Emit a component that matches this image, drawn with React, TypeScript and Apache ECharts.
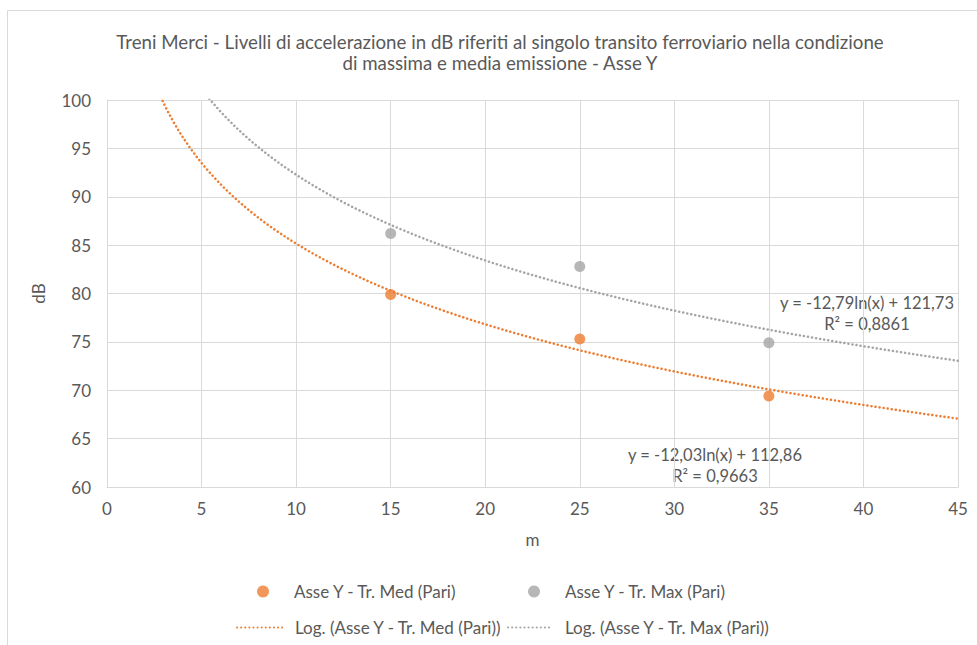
import React, { useEffect, useRef } from "react";
import * as echarts from "echarts";

const titleLines = [
  "Treni Merci - Livelli di accelerazione in dB riferiti al singolo transito ferroviario nella condizione",
  "di massima e media emissione - Asse Y",
];
const xTicks = { min: 0, max: 45, interval: 5 };
const yTicks = { min: 60, max: 100, interval: 5 };

const distances = [15, 25, 35];
const medValues = [79.9, 75.3, 69.4];
const maxValues = [86.2, 82.8, 74.9];

const seriesNames = [
  "Asse Y - Tr. Med (Pari)",
  "Asse Y - Tr. Max (Pari)",
  "Log. (Asse Y - Tr. Med (Pari))",
  "Log. (Asse Y - Tr. Max (Pari))",
];

// trendline coefficients as printed on the chart: y = a*ln(x) + b
const medTrend = [-12.03, 112.86];
const maxTrend = [-12.79, 121.73];
const medEquation = ["y = -12,03ln(x) + 112,86", "R² = 0,9663"];
const maxEquation = ["y = -12,79ln(x) + 121,73", "R² = 0,8861"];

const ORANGE = "#ED7D31";
const GREY = "#A5A5A5";
const TEXT = "#595959";
const GRID = "#D9D9D9";
const FONT = "Lato";

function trendPoints(coef: number[]) {
  const pts: number[][] = [];
  for (let x = 2.5; x <= 45.0001; x += 0.25) {
    pts.push([x, coef[0] * Math.log(x) + coef[1]]);
  }
  return pts;
}

export default function App() {
  const ref = useRef<HTMLDivElement>(null);
  useEffect(() => {
    if (!ref.current) return;
    const chart = echarts.init(ref.current, undefined, { renderer: "svg" });
    const dotted = { type: [0.1, 4] as any, width: 2.5, cap: "round" as any };
    const legendText = (pad: number) => ({
      color: TEXT,
      fontFamily: FONT,
      fontSize: 17,
      padding: [0, 0, 0, pad],
    });
    const hiddenSymbol = { color: "rgba(0,0,0,0)", borderWidth: 0, opacity: 0 };
    chart.setOption({
      animation: false,
      backgroundColor: "#fff",
      title: {
        text: titleLines.join("\n"),
        left: 495,
        textAlign: "center",
        top: 26,
        textStyle: { color: TEXT, fontFamily: FONT, fontSize: 18.7, fontWeight: "normal", lineHeight: 21 },
      },
      grid: { left: 107, right: 19, top: 100, bottom: 158, containLabel: false },
      xAxis: {
        type: "value",
        min: xTicks.min,
        max: xTicks.max,
        interval: xTicks.interval,
        name: "m",
        nameLocation: "middle",
        nameGap: 44,
        nameTextStyle: { color: TEXT, fontFamily: FONT, fontSize: 17 },
        axisLine: { show: true, lineStyle: { color: GRID } },
        axisTick: { show: false },
        axisLabel: { color: TEXT, fontFamily: FONT, fontSize: 17, margin: 13 },
        splitLine: { show: true, lineStyle: { color: GRID, width: 1 } },
      },
      yAxis: {
        type: "value",
        min: yTicks.min,
        max: yTicks.max,
        interval: yTicks.interval,
        name: "dB",
        nameLocation: "middle",
        nameGap: 60,
        nameRotate: 90,
        nameTextStyle: { color: TEXT, fontFamily: FONT, fontSize: 17 },
        axisLine: { show: true, lineStyle: { color: GRID } },
        axisTick: { show: false },
        axisLabel: { color: TEXT, fontFamily: FONT, fontSize: 17, margin: 16 },
        splitLine: { show: true, lineStyle: { color: GRID, width: 1 } },
      },
      legend: [
        { data: [seriesNames[0]], left: 252, top: 578, itemWidth: 52, itemHeight: 12, textStyle: legendText(0) },
        { data: [seriesNames[1]], left: 523, top: 578, itemWidth: 52, itemHeight: 12, textStyle: legendText(0) },
        { data: [seriesNames[2]], left: 231, top: 614, itemWidth: 48, itemHeight: 12, itemStyle: hiddenSymbol, textStyle: legendText(5) },
        { data: [seriesNames[3]], left: 502, top: 614, itemWidth: 43, itemHeight: 12, itemStyle: hiddenSymbol, textStyle: legendText(9) },
      ],
      graphic: [
        {
          type: "rect",
          silent: true,
          shape: { x: 7.5, y: 10.5, width: 1000, height: 700 },
          style: { fill: "none", stroke: GRID, lineWidth: 1 },
        },
        ...maxEquation.map((t, i) => ({
          type: "text",
          x: 867,
          y: 303 + i * 21,
          style: { text: t, fill: TEXT, font: `16.5px ${FONT}`, textAlign: "center", textVerticalAlign: "middle" },
        })),
        ...medEquation.map((t, i) => ({
          type: "text",
          x: 715,
          y: 455 + i * 21,
          style: { text: t, fill: TEXT, font: `16.5px ${FONT}`, textAlign: "center", textVerticalAlign: "middle" },
        })),
      ],
      series: [
        {
          name: seriesNames[2],
          type: "line",
          data: trendPoints(medTrend),
          showSymbol: false,
          symbol: "none",
          clip: true,
          color: ORANGE,
          lineStyle: { color: ORANGE, ...dotted },
          z: 2,
        },
        {
          name: seriesNames[3],
          type: "line",
          data: trendPoints(maxTrend),
          showSymbol: false,
          symbol: "none",
          clip: true,
          color: GREY,
          lineStyle: { color: GREY, ...dotted },
          z: 2,
        },
        {
          name: seriesNames[0],
          type: "scatter",
          data: distances.map((d, i) => [d, medValues[i]]),
          symbolSize: 11,
          itemStyle: { color: ORANGE },
          z: 3,
        },
        {
          name: seriesNames[1],
          type: "scatter",
          data: distances.map((d, i) => [d, maxValues[i]]),
          symbolSize: 11,
          itemStyle: { color: GREY },
          z: 3,
        },
      ],
    });
    return () => chart.dispose();
  }, []);
  return (
    <div
      ref={ref}
      style={{ position: "fixed", left: 0, top: 0, width: 977, height: 645 }}
    />
  );
}
